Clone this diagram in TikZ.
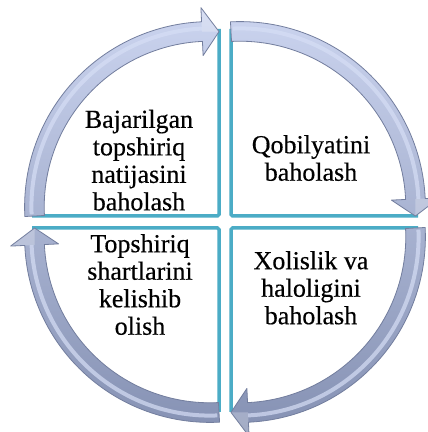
\documentclass[tikz,border=0pt]{standalone}
\usepackage{fontspec}
\setmainfont{Liberation Serif}[FakeBold=0.4]
\definecolor{teal5}{HTML}{4BACC6}
\definecolor{arrtop}{HTML}{CBD4EF}
\definecolor{arrbot}{HTML}{8591B3}
\definecolor{arrlight}{HTML}{D6DEF5}
\definecolor{arredge}{HTML}{737E9E}
\begin{document}
\begin{tikzpicture}[x=1pt,y=1pt,
  quadline/.style={draw=teal5, line width=3.5pt, rounded corners=1.5pt},
  lbl/.style={font=\fontsize{26}{27.5}\selectfont, align=center, inner sep=0pt, anchor=north},
  ringedge/.style={draw=arredge, line width=0.8pt, line join=round},
]
\useasboundingbox (0,0) rectangle (428,432);
\fill[white] (0,0) rectangle (428,432);
\coordinate (O) at (225,210);
% quadrant edges
\draw[quadline] (219,403) -- (219,216) -- (32,216);
\draw[quadline] (231,403) -- (231,216) -- (418,216);
\draw[quadline] (231,20) -- (231,204) -- (418,204);
\draw[quadline] (219,20) -- (219,204) -- (32,204);
% ring arrows
\pgfmathsetmacro\dd{15}
\pgfmathsetmacro\Ra{175.6}
\pgfmathsetmacro\gg{6}
\pgfmathsetmacro\ww{9.8}
\pgfmathsetmacro\hh{24}
\pgfmathsetmacro\LL{17}
\pgfmathsetmacro\pt{180-asin((\gg-\dd)/\Ra)}
\pgfmathsetmacro\pp{acos((\dd-\gg)/\Ra)}
\pgfmathsetmacro\pb{\pp+\LL/\Ra*57.2958}
\pgfmathsetmacro\Ro{\Ra+\ww}
\pgfmathsetmacro\Ri{\Ra-\ww}
\pgfmathsetmacro\Rho{\Ra+\hh}
\pgfmathsetmacro\Rhi{\Ra-\hh}
\pgfmathsetmacro\Rl{\Ra+3}
\foreach \k in {0,1,2,3}{
  \begin{scope}[shift={(O)}, rotate=-90*\k, shift={(-\dd,\dd)}]
    \begin{scope}
      \clip (\pt:\Ro) arc[start angle=\pt, end angle=\pb, radius=\Ro]
        -- (\pb:\Rho) -- (\pp:\Ra) -- (\pb:\Rhi) -- (\pb:\Ri)
        arc[start angle=\pb, end angle=\pt, radius=\Ri] -- cycle;
      \shade[top color=arrtop, bottom color=arrbot]
        (\dd-212,-\dd-212) rectangle (\dd+212,-\dd+212);
      \draw[arrlight, opacity=0.7, line width=4pt]
        (\pt-0.6:\Rl) arc[start angle=\pt-0.6, end angle=\pb, radius=\Rl];
      \fill[white, opacity=0.25] (\pb:\Ra) -- (\pb:\Rho) -- (\pp:\Ra) -- cycle;
    \end{scope}
    \path[ringedge] (\pt:\Ro) arc[start angle=\pt, end angle=\pb, radius=\Ro]
      -- (\pb:\Rho) -- (\pp:\Ra) -- (\pb:\Rhi) -- (\pb:\Ri)
      arc[start angle=\pb, end angle=\pt, radius=\Ri] -- cycle;
  \end{scope}
}
% labels
\node[lbl] (t1) at (139,322.4) {Bajarilgan\\topshiriq\\natijasini\\baholash};
\node[lbl] (t2) at (311,297) {Qobilyatini\\baholash};
\node[lbl] (t3) at (311,181) {Xolislik va\\haloligini\\baholash};
\node[lbl] (t4) at (140,198) {Topshiriq\\shartlarini\\kelishib\\olish};
\end{tikzpicture}
\end{document}
